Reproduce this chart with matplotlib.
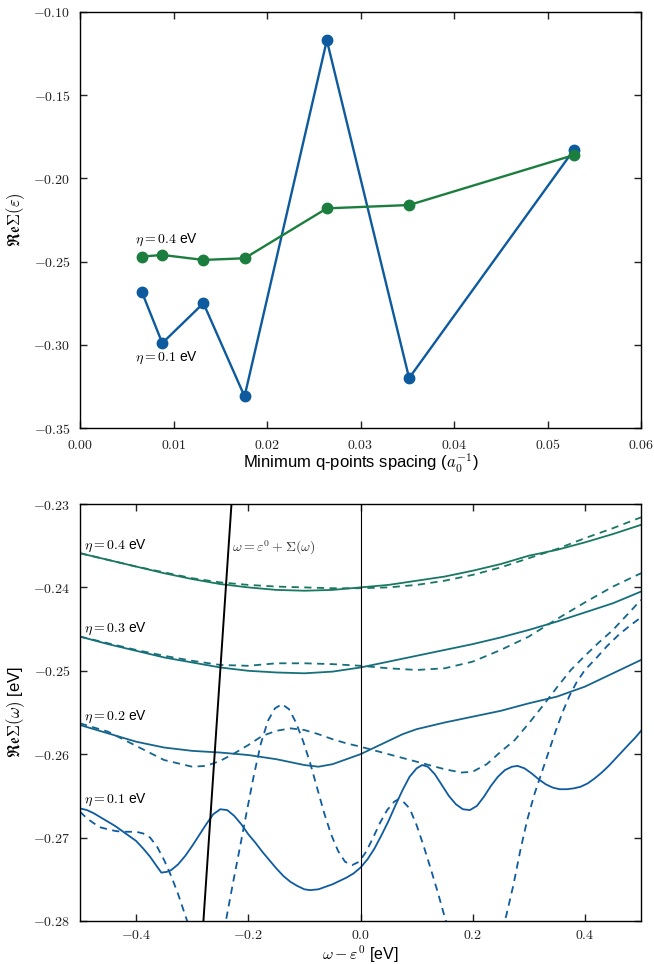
import matplotlib
matplotlib.use('Agg')
import matplotlib.pyplot as plt
from matplotlib.ticker import FuncFormatter, MultipleLocator

plt.rcParams['font.family'] = ['Liberation Sans', 'DejaVu Sans']
plt.rcParams['mathtext.fontset'] = 'cm'

# ---------------- data: top panel ----------------
q_spacing = [0.0066, 0.0088, 0.0132, 0.0176, 0.0264, 0.0352, 0.0528]
re_sigma_eta01 = [-0.268, -0.299, -0.275, -0.331, -0.117, -0.320, -0.183]
re_sigma_eta04 = [-0.247, -0.246, -0.249, -0.248, -0.218, -0.216, -0.186]

# ---------------- data: bottom panel ----------------
w_smooth = [-0.50, -0.45, -0.40, -0.35, -0.30, -0.25, -0.20, -0.15, -0.10, -0.05,
            0.00, 0.05, 0.10, 0.15, 0.20, 0.25, 0.30, 0.35, 0.40, 0.45, 0.50]
eta04_solid = [-0.2359, -0.2367, -0.2375, -0.2383, -0.2390, -0.2396, -0.2400, -0.2403,
               -0.2404, -0.2403, -0.2400, -0.2397, -0.2392, -0.2387, -0.2380, -0.2372,
               -0.2362, -0.2355, -0.2346, -0.2336, -0.2325]
eta04_dashed = [-0.2359, -0.2367, -0.2375, -0.2382, -0.2389, -0.2394, -0.2397, -0.2399,
                -0.2400, -0.2401, -0.2401, -0.2400, -0.2397, -0.2392, -0.2385, -0.2376,
                -0.2365, -0.2354, -0.2341, -0.2329, -0.2316]
eta03_solid = [-0.2459, -0.2468, -0.2476, -0.2484, -0.2490, -0.2496, -0.2500, -0.2502,
               -0.2503, -0.2501, -0.2496, -0.2489, -0.2482, -0.2475, -0.2468, -0.2460,
               -0.2451, -0.2441, -0.2430, -0.2419, -0.2405]
eta03_dashed = [-0.2459, -0.2467, -0.2475, -0.2482, -0.2488, -0.2493, -0.2494, -0.2491,
                -0.2491, -0.2492, -0.2494, -0.2497, -0.2499, -0.2497, -0.2489, -0.2475,
                -0.2459, -0.2438, -0.2418, -0.2399, -0.2383]

w_eta02_solid = [-0.50, -0.45, -0.40, -0.35, -0.30, -0.25, -0.20, -0.15, -0.10, -0.075,
                 -0.05, -0.025, 0.00, 0.025, 0.05, 0.075, 0.10, 0.15, 0.20, 0.25, 0.30,
                 0.35, 0.40, 0.45, 0.50]
eta02_solid = [-0.2565, -0.2575, -0.2585, -0.2592, -0.2596, -0.2598, -0.2601, -0.2606,
               -0.2613, -0.2615, -0.2612, -0.2606, -0.2600, -0.2592, -0.2584, -0.2576,
               -0.2570, -0.2562, -0.2555, -0.2548, -0.2539, -0.2531, -0.2519, -0.2503,
               -0.2487]

w_eta02_dashed = [-0.50, -0.45, -0.40, -0.35, -0.30, -0.275, -0.25, -0.225, -0.20, -0.175,
                  -0.15, -0.125, -0.10, -0.075, -0.05, -0.025, 0.00, 0.05, 0.10, 0.15,
                  0.18, 0.20, 0.225, 0.25, 0.275, 0.30, 0.325, 0.35, 0.375, 0.40, 0.425,
                  0.45, 0.475, 0.50]
eta02_dashed = [-0.2563, -0.2573, -0.2590, -0.2607, -0.2615, -0.2614, -0.2608, -0.2599,
                -0.2589, -0.2578, -0.2572, -0.2569, -0.2571, -0.2576, -0.2582, -0.2587,
                -0.2591, -0.2600, -0.2609, -0.2618, -0.2622, -0.2621, -0.2612, -0.2597,
                -0.2583, -0.2563, -0.2542, -0.2520, -0.2499, -0.2482, -0.2466, -0.2451,
                -0.2433, -0.2415]

w_eta01_solid = [-0.50, -0.4875, -0.475, -0.4625, -0.45, -0.4375, -0.425, -0.4125, -0.40,
                 -0.3875, -0.375, -0.3625, -0.355, -0.345, -0.3375, -0.325, -0.3125, -0.30,
                 -0.2875, -0.275, -0.2625, -0.25, -0.2375, -0.225, -0.2125, -0.20, -0.1875,
                 -0.175, -0.1625, -0.15, -0.1375, -0.125, -0.1125, -0.10, -0.09, -0.075,
                 -0.0625, -0.05, -0.0375, -0.025, -0.0125, 0.00, 0.0125, 0.025, 0.0375,
                 0.05, 0.0625, 0.075, 0.0875, 0.10, 0.11, 0.12, 0.1325, 0.145, 0.1575,
                 0.17, 0.1825, 0.195, 0.2075, 0.22, 0.2325, 0.245, 0.2575, 0.27, 0.28,
                 0.2925, 0.305, 0.3175, 0.33, 0.3425, 0.355, 0.3675, 0.38, 0.3925, 0.405,
                 0.4175, 0.43, 0.4425, 0.455, 0.4675, 0.48, 0.49, 0.50]
eta01_solid = [-0.2665, -0.2667, -0.2671, -0.2676, -0.2681, -0.2686, -0.2692, -0.2698,
               -0.2704, -0.2713, -0.2723, -0.2735, -0.2742, -0.2741, -0.2739, -0.2732,
               -0.2722, -0.2710, -0.2697, -0.2684, -0.2672, -0.2666, -0.2667, -0.2674,
               -0.2684, -0.2696, -0.2706, -0.2717, -0.2727, -0.2737, -0.2746, -0.2753,
               -0.2758, -0.2762, -0.2763, -0.2762, -0.2759, -0.2756, -0.2752, -0.2748,
               -0.2743, -0.2736, -0.2726, -0.2713, -0.2697, -0.2680, -0.2661, -0.2643,
               -0.2627, -0.2617, -0.2613, -0.2615, -0.2624, -0.2637, -0.2650, -0.2660,
               -0.2666, -0.2667, -0.2662, -0.2651, -0.2638, -0.2627, -0.2619, -0.2615,
               -0.2614, -0.2617, -0.2623, -0.2630, -0.2636, -0.2640, -0.2642, -0.2642,
               -0.2641, -0.2639, -0.2635, -0.2629, -0.2622, -0.2614, -0.2605, -0.2596,
               -0.2587, -0.2580, -0.2572]

w_eta01_dashed = [-0.50, -0.4875, -0.475, -0.4625, -0.45, -0.4375, -0.425, -0.4125, -0.40,
                  -0.3875, -0.375, -0.3625, -0.35, -0.3375, -0.325, -0.3125, -0.30, -0.2875,
                  -0.275, -0.2625, -0.25, -0.24, -0.2275, -0.215, -0.2025, -0.19, -0.1775,
                  -0.165, -0.1525, -0.14, -0.1275, -0.115, -0.1025, -0.09, -0.0775, -0.065,
                  -0.0525, -0.04, -0.0275, -0.015, -0.0025, 0.01, 0.0225, 0.035, 0.0475,
                  0.06, 0.0675, 0.075, 0.0875, 0.10, 0.1125, 0.125, 0.1375, 0.15, 0.1625,
                  0.175, 0.19, 0.205, 0.22, 0.235, 0.2475, 0.26, 0.2725, 0.285, 0.2975,
                  0.31, 0.3225, 0.335, 0.3475, 0.36, 0.3725, 0.385, 0.40, 0.42, 0.44, 0.46,
                  0.48, 0.50]
eta01_dashed = [-0.2669, -0.2677, -0.2683, -0.2688, -0.2690, -0.2692, -0.2693, -0.2693,
                -0.2693, -0.2695, -0.2700, -0.2711, -0.2727, -0.2746, -0.2768, -0.2793,
                -0.2818, -0.2840, -0.2855, -0.2850, -0.2830, -0.2800, -0.2755, -0.2712,
                -0.2668, -0.2625, -0.2587, -0.2560, -0.2545, -0.2540, -0.2546, -0.2562,
                -0.2584, -0.2610, -0.2640, -0.2670, -0.2696, -0.2716, -0.2729, -0.2733,
                -0.2729, -0.2717, -0.2700, -0.2682, -0.2667, -0.2657, -0.2654, -0.2656,
                -0.2665, -0.2685, -0.2710, -0.2737, -0.2765, -0.2795, -0.2822, -0.2845,
                -0.2860, -0.2865, -0.2860, -0.2845, -0.2822, -0.2793, -0.2757, -0.2715,
                -0.2678, -0.2648, -0.2623, -0.2598, -0.2573, -0.2550, -0.2530, -0.2514,
                -0.2499, -0.2485, -0.2470, -0.2457, -0.2446, -0.2436]

qp_line = [-0.30, -0.20]   # omega = eps0 + Sigma(omega)  ->  Sigma = omega - eps0

BLUE = '#0d5a9e'
GREEN = '#1c7e3e'
C04 = '#1a7862'
C03 = '#16707a'
C02 = '#15658c'
C01 = '#0e5ba0'

fig = plt.figure(figsize=(6.54, 9.64), dpi=100)
ax1 = fig.add_axes([80/654, 1-428/964, 561/654, 416/964])
ax2 = fig.add_axes([80/654, 1-921/964, 561/654, 417/964])

for ax in (ax1, ax2):
    ax.tick_params(direction='in', top=True, right=True, length=5, width=1,
                   labelsize=10, pad=7, colors='#222222')
    for s in ax.spines.values():
        s.set_linewidth(1.0)
ax2.tick_params(axis='x', pad=5)

# ---- top panel ----
ax1.plot(q_spacing, re_sigma_eta01, '-o', color=BLUE, lw=1.7, ms=7.5)
ax1.plot(q_spacing, re_sigma_eta04, '-o', color=GREEN, lw=1.7, ms=7.5)
ax1.set_xlim(0.0, 0.06)
ax1.set_ylim(-0.35, -0.10)
ax1.xaxis.set_major_locator(MultipleLocator(0.01))
ax1.yaxis.set_major_locator(MultipleLocator(0.05))
fmt2 = FuncFormatter(lambda v, p: f'${v:.2f}$')
ax1.xaxis.set_major_formatter(fmt2)
ax1.yaxis.set_major_formatter(fmt2)
ax1.set_xlabel(r'Minimum q-points spacing ($a_0^{-1}$)', fontsize=12)
ax1.set_ylabel(r'$\mathfrak{Re}\Sigma(\varepsilon)$', fontsize=12)
ax1.xaxis.set_label_coords(0.5, -0.058)
ax1.yaxis.set_label_coords(-0.095, 0.5)
ax1.text(0.0059, -0.2387, r'$\eta = 0.4$ eV', fontsize=10)
ax1.text(0.0059, -0.3095, r'$\eta = 0.1$ eV', fontsize=10)

# ---- bottom panel ----
dash = (0, (4, 3))
ax2.plot(w_smooth, eta04_solid, color=C04, lw=1.3)
ax2.plot(w_smooth, eta04_dashed, color=C04, lw=1.3, ls=dash)
ax2.plot(w_smooth, eta03_solid, color=C03, lw=1.3)
ax2.plot(w_smooth, eta03_dashed, color=C03, lw=1.3, ls=dash)
ax2.plot(w_eta02_solid, eta02_solid, color=C02, lw=1.3)
ax2.plot(w_eta02_dashed, eta02_dashed, color=C02, lw=1.3, ls=dash)
ax2.plot(w_eta01_solid, eta01_solid, color=C01, lw=1.3)
ax2.plot(w_eta01_dashed, eta01_dashed, color=C01, lw=1.3, ls=dash)
ax2.plot(qp_line, qp_line, color='k', lw=1.4)
ax2.axvline(0.0, color='k', lw=0.8)
ax2.set_xlim(-0.5, 0.5)
ax2.set_ylim(-0.28, -0.23)
ax2.xaxis.set_major_locator(MultipleLocator(0.2))
ax2.yaxis.set_major_locator(MultipleLocator(0.01))
ax2.xaxis.set_major_formatter(FuncFormatter(lambda v, p: f'${v:.1f}$'))
ax2.yaxis.set_major_formatter(fmt2)
ax2.set_xlabel(r'$\omega - \varepsilon^0$ [eV]', fontsize=11.5)
ax2.set_ylabel(r'$\mathfrak{Re}\Sigma(\omega)$ [eV]', fontsize=12)
ax2.xaxis.set_label_coords(0.5, -0.054)
ax2.yaxis.set_label_coords(-0.095, 0.5)
ax2.text(-0.492, -0.2354, r'$\eta = 0.4$ eV', fontsize=10)
ax2.text(-0.492, -0.2453, r'$\eta = 0.3$ eV', fontsize=10)
ax2.text(-0.492, -0.2559, r'$\eta = 0.2$ eV', fontsize=10)
ax2.text(-0.492, -0.2658, r'$\eta = 0.1$ eV', fontsize=10)
ax2.text(-0.229, -0.2352, r'$\omega = \varepsilon^0 + \Sigma(\omega)$', fontsize=10,
         color='#333333', va='center')

fig.savefig('out.png', dpi=100)
